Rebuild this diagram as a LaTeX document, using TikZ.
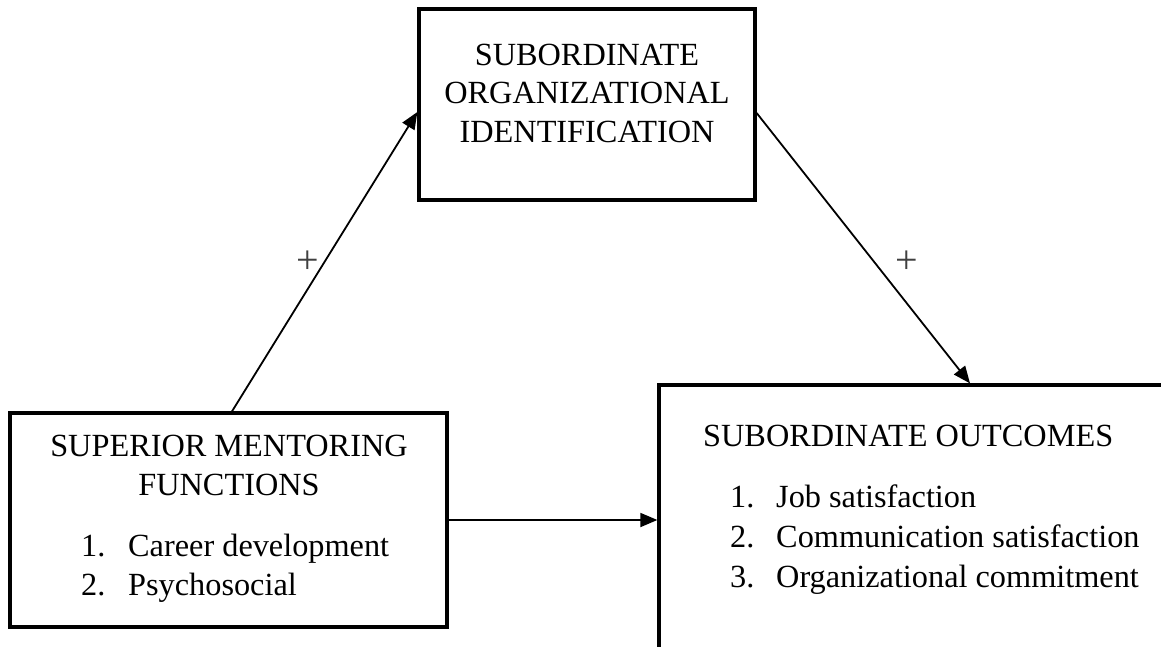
\documentclass[tikz,border=0pt]{standalone}
\usepackage{fontspec}
\setmainfont{Liberation Serif}
\usetikzlibrary{arrows.meta}
\tikzset{
  box/.style={draw, line width=3.3pt, inner sep=0pt, fill=none},
  conn/.style={line width=1.8pt, -{Triangle[length=17pt,width=14pt]}},
  txt/.style={font=\fontsize{32.3}{38}\selectfont, inner sep=0pt},
  plus/.style={font=\fontsize{40}{44}\selectfont, inner sep=0pt, text=black!75}
}
\begin{document}
\begin{tikzpicture}[x=1pt,y=-1pt]
\useasboundingbox (0,0) rectangle (1161,646);
\fill[white] (0,0) rectangle (1161,646);
\clip (0,0) rectangle (1161,646);
% boxes
\node[box, minimum width=336pt, minimum height=191pt] (soi) at (587,104.5) {};
\node[box, minimum width=437pt, minimum height=214pt] (smf) at (228.5,520) {};
\node[box, minimum width=541pt, minimum height=315pt] (so) at (929.5,542.5) {};
% top box text
\node[txt, anchor=base] (soi1) at (587,65) {SUBORDINATE};
\node[txt, anchor=base] (soi2) at (587,103) {ORGANIZATIONAL};
\node[txt, anchor=base] (soi3) at (587,142) {IDENTIFICATION};
% left box text
\node[txt, anchor=base] (smf1) at (229,456) {SUPERIOR MENTORING};
\node[txt, anchor=base] (smf2) at (229,495) {FUNCTIONS};
\node[txt, anchor=base west] (smfn1) at (81,556) {1.};
\node[txt, anchor=base west] (smfi1) at (128,556) {Career development};
\node[txt, anchor=base west] (smfn2) at (81,595) {2.};
\node[txt, anchor=base west] (smfi2) at (128,595) {Psychosocial};
% right box text
\node[txt, anchor=base west] (so1) at (703,446) {SUBORDINATE OUTCOMES};
\node[txt, anchor=base west] (son1) at (730,507) {1.};
\node[txt, anchor=base west] (soi1b) at (776,507) {Job satisfaction};
\node[txt, anchor=base west] (son2) at (730,547) {2.};
\node[txt, anchor=base west] (soi2b) at (776,547) {Communication satisfaction};
\node[txt, anchor=base west] (son3) at (730,587) {3.};
\node[txt, anchor=base west] (soi3b) at (776,587) {Organizational commitment};
% connectors
\draw[conn] (232,0 |- smf.north) -- (soi.west |- 0,112);
\draw[conn] (soi.east |- 0,113) -- (970,0 |- so.north);
\draw[conn] (smf.east |- 0,520) -- (so.west |- 0,520);
% signs
\node[plus] (p1) at (308,262) {+};
\node[plus] (p2) at (907,262) {+};
\end{tikzpicture}
\end{document}
